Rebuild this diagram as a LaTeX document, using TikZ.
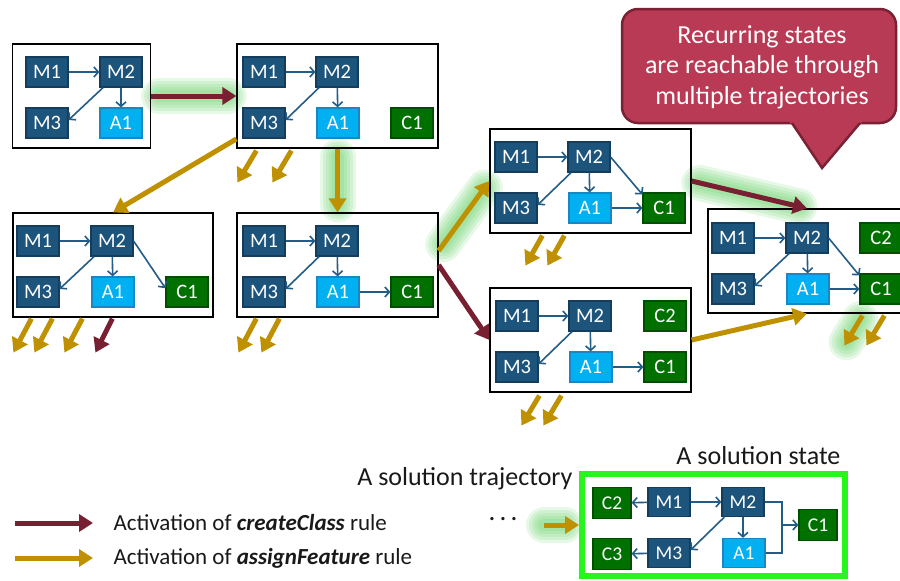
\documentclass[tikz,border=0pt]{standalone}
\usepackage{fontspec}
\setmainfont{Carlito}
\usetikzlibrary{arrows.meta,calc}
\pgfdeclarelayer{background}
\pgfsetlayers{background,main}
\definecolor{mblue}{RGB}{28,84,124}
\definecolor{mborder}{RGB}{20,60,92}
\definecolor{ablue}{RGB}{0,176,240}
\definecolor{aborder}{RGB}{25,135,195}
\definecolor{cgreen}{RGB}{0,112,0}
\definecolor{cborder}{RGB}{0,78,0}
\definecolor{edgeblue}{RGB}{34,92,135}
\definecolor{darkred}{RGB}{120,32,50}
\definecolor{gold}{RGB}{191,144,0}
\definecolor{glowgreen}{RGB}{90,205,90}
\definecolor{calloutfill}{RGB}{184,58,84}
\definecolor{calloutborder}{RGB}{122,34,52}
\definecolor{lime}{RGB}{40,245,30}
\tikzset{
  box/.style={rectangle, minimum width=42pt, minimum height=30pt, inner sep=0pt, line width=1.2pt, text=white, font=\fontsize{20.5}{20.5}\selectfont},
  mbox/.style={box, fill=mblue, draw=mborder},
  abox/.style={box, fill=ablue, draw=aborder},
  cbox/.style={box, fill=cgreen, draw=cborder},
  sbox/.style={minimum width=38pt, minimum height=31pt, font=\fontsize{19.5}{19.5}\selectfont},
  stateframe/.style={rectangle, draw=black, line width=1.2pt, inner sep=0pt, minimum height=104pt},
  edge/.style={draw=edgeblue, line width=1.6pt, -{Straight Barb[length=4.5pt,width=10pt,line width=1.6pt]}},
  bigarrow/.style={line width=5pt, -{Triangle[length=14pt,width=17pt]}},
  redarrow/.style={bigarrow, draw=darkred},
  goldarrow/.style={bigarrow, draw=gold},
  lbl/.style={font=\fontsize{23}{26}\selectfont, text=black!90},
  biglbl/.style={font=\fontsize{26}{28}\selectfont, text=black!90},
}
\newcommand\glowline[3][]{%
  \foreach \gw in {36,30,24,18,12}{%
    \draw[draw=glowgreen, line cap=round, line width=\gw pt, opacity=0.15, shorten <=8pt, shorten >=8pt, #1] #2 -- #3;}}
\begin{document}
\begin{tikzpicture}[x=1pt,y=-1pt]
\useasboundingbox (0,0) rectangle (900,581);
\clip (0,0) rectangle (900,581);

% ---------- state frames ----------
\node[stateframe, minimum width=138pt] (s1) at (81.5,96) {};
\node[stateframe, minimum width=201pt] (s2) at (337.5,96) {};
\node[stateframe, minimum width=200pt] (s3) at (113,265) {};
\node[stateframe, minimum width=201pt] (s4) at (337.5,265) {};
\node[stateframe, minimum width=201pt] (s5) at (590.5,181) {};
\node[stateframe, minimum width=201pt] (s6) at (590.5,340) {};
\node[stateframe, minimum width=212pt] (s7) at (814,261) {};

% ---------- state 1 ----------
\node[mbox] (s1m1) at (47,72) {M1};
\node[mbox] (s1m2) at (121,72) {M2};
\node[mbox] (s1m3) at (47,123) {M3};
\node[abox] (s1a1) at (121,123) {A1};
\draw[edge] (s1m1) -- (s1m2);
\draw[edge] (s1m2) -- (s1a1);
\draw[edge] (s1m2.221) -- (s1m3.8);

% ---------- state 2 ----------
\node[mbox] (s2m1) at (264,72) {M1};
\node[mbox] (s2m2) at (337,72) {M2};
\node[mbox] (s2m3) at (264,123) {M3};
\node[abox] (s2a1) at (338,123) {A1};
\node[cbox] (s2c1) at (412,123) {C1};
\draw[edge] (s2m1) -- (s2m2);
\draw[edge] (s2m2) -- (s2a1);
\draw[edge] (s2m2.221) -- (s2m3.8);

% ---------- state 3 ----------
\node[mbox] (s3m1) at (38,241) {M1};
\node[mbox] (s3m2) at (112,241) {M2};
\node[mbox] (s3m3) at (38,292) {M3};
\node[abox] (s3a1) at (113,292) {A1};
\node[cbox] (s3c1) at (187,292) {C1};
\draw[edge] (s3m1) -- (s3m2);
\draw[edge] (s3m2) -- (s3a1);
\draw[edge] (s3m2.221) -- (s3m3.8);
\draw[edge] (s3m2.east) -- (s3c1.170);

% ---------- state 4 ----------
\node[mbox] (s4m1) at (264,241) {M1};
\node[mbox] (s4m2) at (337,241) {M2};
\node[mbox] (s4m3) at (264,292) {M3};
\node[abox] (s4a1) at (338,292) {A1};
\node[cbox] (s4c1) at (412,292) {C1};
\draw[edge] (s4m1) -- (s4m2);
\draw[edge] (s4m2) -- (s4a1);
\draw[edge] (s4m2.221) -- (s4m3.8);
\draw[edge] (s4a1) -- (s4c1);

% ---------- state 5 ----------
\node[mbox] (s5m1) at (516,157) {M1};
\node[mbox] (s5m2) at (589,157) {M2};
\node[mbox] (s5m3) at (516,208) {M3};
\node[abox] (s5a1) at (590,208) {A1};
\node[cbox] (s5c1) at (664,208) {C1};
\draw[edge] (s5m1) -- (s5m2);
\draw[edge] (s5m2) -- (s5a1);
\draw[edge] (s5m2.221) -- (s5m3.8);
\draw[edge] (s5m2.east) -- (s5c1.148);
\draw[edge] (s5a1) -- (s5c1);

% ---------- state 6 ----------
\node[mbox] (s6m1) at (517,316) {M1};
\node[mbox] (s6m2) at (590,316) {M2};
\node[cbox] (s6c2) at (665,316) {C2};
\node[mbox] (s6m3) at (517,367) {M3};
\node[abox] (s6a1) at (591,367) {A1};
\node[cbox] (s6c1) at (665,367) {C1};
\draw[edge] (s6m1) -- (s6m2);
\draw[edge] (s6m2) -- (s6a1);
\draw[edge] (s6m2.221) -- (s6m3.8);
\draw[edge] (s6a1) -- (s6c1);

% ---------- state 7 ----------
\node[mbox] (s7m1) at (733,238) {M1};
\node[mbox] (s7m2) at (807,238) {M2};
\node[cbox] (s7c2) at (881,238) {C2};
\node[mbox] (s7m3) at (733,289) {M3};
\node[abox] (s7a1) at (808,289) {A1};
\node[cbox] (s7c1) at (881,289) {C1};
\draw[edge] (s7m1) -- (s7m2);
\draw[edge] (s7m2) -- (s7a1);
\draw[edge] (s7m2.221) -- (s7m3.8);
\draw[edge] (s7m2.east) -- (s7c1.148);
\draw[edge] (s7a1) -- (s7c1);

% ---------- transitions ----------
\draw[redarrow] (s1.east) -- (s2.west);
\draw[goldarrow] (s2.203) -- (s3.north);
\draw[goldarrow] (s2.south) -- (s4.north);
\draw[goldarrow] (s4.8.5) -- (s5.west);
\draw[redarrow] (s4.east) -- (s6.west);
\draw[redarrow] (s5.east) -- (s7.north -| s7m2);
\draw[goldarrow] (s6.east) -- (s7.south -| s7m2);

% ---------- stub transitions ----------
\draw[goldarrow] ($(s2.south west)+(20,2)$) -- ++(-19,32);
\draw[goldarrow] ($(s2.south west)+(55,2)$) -- ++(-19,32);
\draw[goldarrow] ($(s3.south west)+(19,1)$) -- ++(-18,34);
\draw[goldarrow] ($(s3.south west)+(40,1)$) -- ++(-18,34);
\draw[goldarrow] ($(s3.south west)+(70,1)$) -- ++(-18,34);
\draw[redarrow]  ($(s3.south west)+(100,1)$) -- ++(-17,34);
\draw[goldarrow] ($(s4.south west)+(20,1)$) -- ++(-18,34);
\draw[goldarrow] ($(s4.south west)+(43,1)$) -- ++(-18,34);
\draw[goldarrow] ($(s5.south west)+(53,2)$) -- ++(-17,30);
\draw[goldarrow] ($(s5.south west)+(75,2)$) -- ++(-17,30);
\draw[goldarrow] ($(s6.south west)+(50,3)$) -- ++(-18,30);
\draw[goldarrow] ($(s6.south west)+(72,3)$) -- ++(-18,30);
\coordinate (s7st1) at ($(s7.south west)+(155,2)$);
\coordinate (s7sh1) at ($(s7st1)+(-18,30)$);
\draw[goldarrow] (s7st1) -- (s7sh1);
\draw[goldarrow] ($(s7.south west)+(177,2)$) -- ++(-18,30);

% ---------- callout ----------
\draw[line width=2.5pt, draw=calloutborder, fill=calloutfill, rounded corners=16pt] (622,9) rectangle (896,123);
\fill[calloutfill] (789,121) -- (822,167) -- (863,121) -- cycle;
\draw[calloutborder, line width=2.5pt, line join=miter] (792,123) -- (822,168) -- (860,123);
\node[text=white, align=center, font=\fontsize{26}{30.5}\selectfont] (callout) at (762,67)
  {Recurring states\\are reachable through\\multiple trajectories};

% ---------- legend ----------
\coordinate (l1a) at (15,523);
\coordinate (l1b) at (93,523);
\coordinate (l2a) at (15,558);
\coordinate (l2b) at (93,558);
\draw[redarrow] (l1a) -- (l1b);
\draw[goldarrow] (l2a) -- (l2b);
\node[lbl, anchor=west] (lt1) at (110,523) {Activation of \textbf{\textit{createClass}} rule};
\node[lbl, anchor=west] (lt2) at (110,558) {Activation of \textbf{\textit{assignFeature}} rule};

% ---------- solution ----------
\node[biglbl, anchor=east] (soltraj) at (576,479) {A solution trajectory};
\node[biglbl, anchor=east] (solstate) at (844,456) {A solution state};
\node[lbl] (dots) at (503,521) {· · ·};
\node[rectangle, draw=lime, line width=6pt, minimum width=263pt, minimum height=102pt, inner sep=0pt] (sol) at (713.5,525) {};
\coordinate (soltail) at (544,525);
\draw[goldarrow] (soltail) -- (sol.west);

\node[cbox, sbox] (s8c2) at (612,503) {C2};
\node[mbox, sbox, minimum width=42pt, minimum height=29pt] (s8m1) at (669,502) {M1};
\node[mbox, sbox, minimum width=42pt, minimum height=29pt] (s8m2) at (743,502) {M2};
\node[cbox, sbox] (s8c1) at (818,525) {C1};
\node[cbox, sbox] (s8c3) at (612,554) {C3};
\node[mbox, sbox, minimum width=42pt, minimum height=29pt] (s8m3) at (669,553) {M3};
\node[abox, sbox, minimum width=42pt, minimum height=29pt] (s8a1) at (744,553) {A1};
\coordinate (s8j) at (782,525);
\draw[edge] (s8m1) -- (s8c2);
\draw[edge] (s8m3) -- (s8c3);
\draw[edge] (s8m1) -- (s8m2);
\draw[edge] (s8m2.south) -- (s8m2.south |- s8a1.north);
\draw[edge] (s8m2.219) -- (s8m3.8);
\draw[edge] (s8m2.east) -| (s8j) -- (s8c1.west);
\draw[draw=edgeblue, line width=1.6pt] (s8a1.east) -| (s8j);

% ---------- glows ----------
\begin{pgfonlayer}{background}
\glowline{(s1.east)}{(s2.west)}
\glowline{(s2.south)}{(s4.north)}
\glowline{(s4.8.5)}{(s5.west)}
\glowline{(s5.east)}{(s7.north -| s7m2)}
\glowline[shorten <=4pt, shorten >=4pt]{(s7st1)}{(s7sh1)}
\glowline[shorten <=0pt, shorten >=14pt]{(soltail)}{(sol.west)}
\end{pgfonlayer}
\end{tikzpicture}
\end{document}
